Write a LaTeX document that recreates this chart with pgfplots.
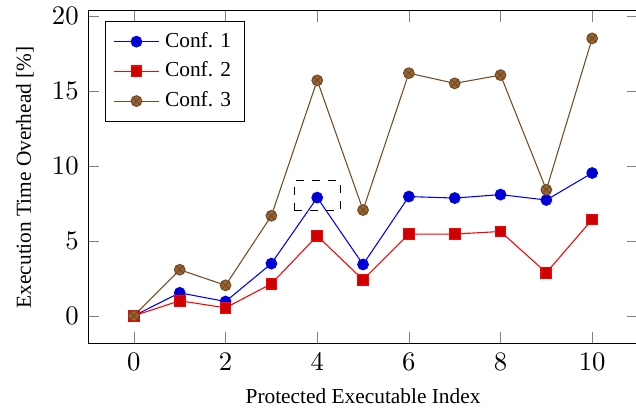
\documentclass[border=0pt]{standalone}
\usepackage{fontspec}
\setmainfont{Liberation Serif}
\usepackage{pgfplots}
\pgfplotsset{compat=1.18}
\begin{document}
\begin{tikzpicture}
\begin{axis}[
  name=ax,
  scale only axis,
  width=206pt, height=124.7pt,
  xmin=-1, xmax=11,
  ymin=-1.87, ymax=20.33,
  xtick={0,2,4,6,8,10},
  ytick={0,5,10,15,20},
  xlabel={Protected Executable Index},
  ylabel={Execution Time Overhead [$\%$]},
  label style={font=\footnotesize},
  legend style={font=\footnotesize},
  legend pos=north west,
  legend cell align=left,
]
\addplot coordinates {(0,0) (1,1.53) (2,0.95) (3,3.48) (4,7.88) (5,3.42) (6,7.95) (7,7.85) (8,8.08) (9,7.72) (10,9.52)};
\addlegendentry{Conf. 1}
\addplot coordinates {(0,0) (1,1.0) (2,0.53) (3,2.13) (4,5.33) (5,2.4) (6,5.45) (7,5.45) (8,5.62) (9,2.87) (10,6.42)};
\addlegendentry{Conf. 2}
\addplot coordinates {(0,0) (1,3.07) (2,2.03) (3,6.67) (4,15.7) (5,7.05) (6,16.18) (7,15.5) (8,16.05) (9,8.4) (10,18.5)};
\addlegendentry{Conf. 3}
\draw[dashed] (axis cs:3.5,7) rectangle (axis cs:4.5,9);
\end{axis}
\pgfresetboundingbox
\path[use as bounding box] ([xshift=-33pt,yshift=-25.1pt]ax.south west) rectangle ([xshift=-0.75pt,yshift=4.1pt]ax.north east);
\end{tikzpicture}
\end{document}
